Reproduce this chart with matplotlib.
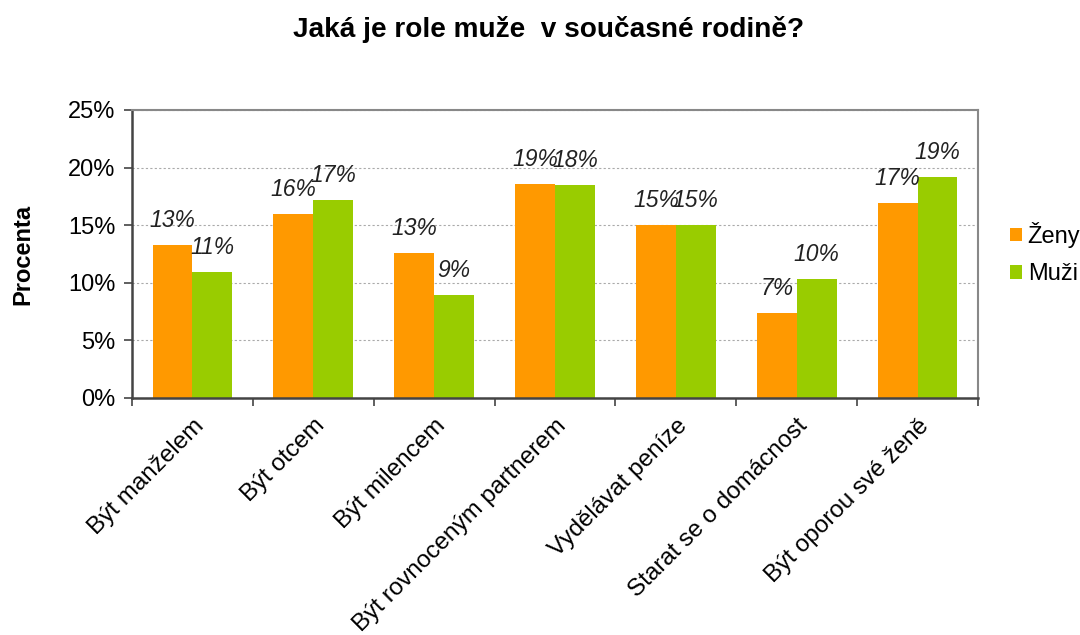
import matplotlib
matplotlib.use("Agg")
import matplotlib.pyplot as plt
import numpy as np

plt.rcParams["font.family"] = ["Liberation Sans", "DejaVu Sans"]

categories = ["Být manželem", "Být otcem", "Být milencem", "Být rovnoceným partnerem",
              "Vydělávat peníze", "Starat se o domácnost", "Být oporou své ženě"]
zeny = [13.3, 16.0, 12.6, 18.6, 15.0, 7.4, 16.9]
muzi = [10.9, 17.2, 8.9, 18.5, 15.0, 10.3, 19.2]
series_names = ["Ženy", "Muži"]
colors = ["#FF9900", "#99CC00"]

fig = plt.figure(figsize=(10.8, 6.35), dpi=100)
ax = fig.add_axes([132/1080, 1 - 398/635, (978 - 132)/1080, (398 - 110)/635])

x = np.arange(len(categories))
w = 0.33
bars1 = ax.bar(x - w/2, zeny, w, color=colors[0], label=series_names[0])
bars2 = ax.bar(x + w/2, muzi, w, color=colors[1], label=series_names[1])

# popisky hodnot nad sloupci
for bars, vals in [(bars1, zeny), (bars2, muzi)]:
    for b, v in zip(bars, vals):
        ax.annotate(f"{round(v):.0f}%", (b.get_x() + b.get_width()/2, v),
                    xytext=(0, 13), textcoords="offset pixels",
                    ha="center", va="bottom", fontsize=16.5, style="italic", color="#222222")

ax.set_xlim(-0.5, len(categories) - 0.5)
ax.set_ylim(0, 25)
ax.set_yticks([0, 5, 10, 15, 20, 25])
ax.set_yticklabels([f"{t}%" for t in [0, 5, 10, 15, 20, 25]], fontsize=17)
ax.yaxis.grid(True, color="#AAAAAA", linestyle=(0, (2, 2)), linewidth=0.8)
ax.set_axisbelow(True)

ax.set_xticks(np.arange(len(categories) + 1) - 0.5, minor=False)
ax.set_xticklabels([])
ax.set_xticks(x, minor=True)
ax.set_xticklabels(categories, minor=True, rotation=45, ha="right", va="top",
                   rotation_mode="anchor", fontsize=17.5)
ax.tick_params(axis="x", which="minor", length=0, pad=12)
ax.tick_params(axis="x", which="major", length=6, width=1.2, color="#444444", direction="out")
ax.tick_params(axis="y", length=6, width=1.2, color="#444444", direction="out", pad=6)

for side in ["top", "right"]:
    ax.spines[side].set_color("#888888")
    ax.spines[side].set_linewidth(1.5)
for side in ["left", "bottom"]:
    ax.spines[side].set_color("#444444")
    ax.spines[side].set_linewidth(1.8)

ax.set_ylabel("Procenta", fontsize=17, fontweight="bold", labelpad=24)

fig.legend(loc="center left", bbox_to_anchor=(1010/1080, 1 - 253.5/635), frameon=False,
           fontsize=17, borderpad=0, borderaxespad=0,
           handlelength=0.5, handleheight=0.5, handletextpad=0.25, labelspacing=0.65)

fig.text(549/1080, 1 - 37/635, "Jaká je role muže  v současné rodině?", ha="center", va="baseline",
         fontsize=20.2, fontweight="bold")

fig.savefig("out.png", dpi=100)
